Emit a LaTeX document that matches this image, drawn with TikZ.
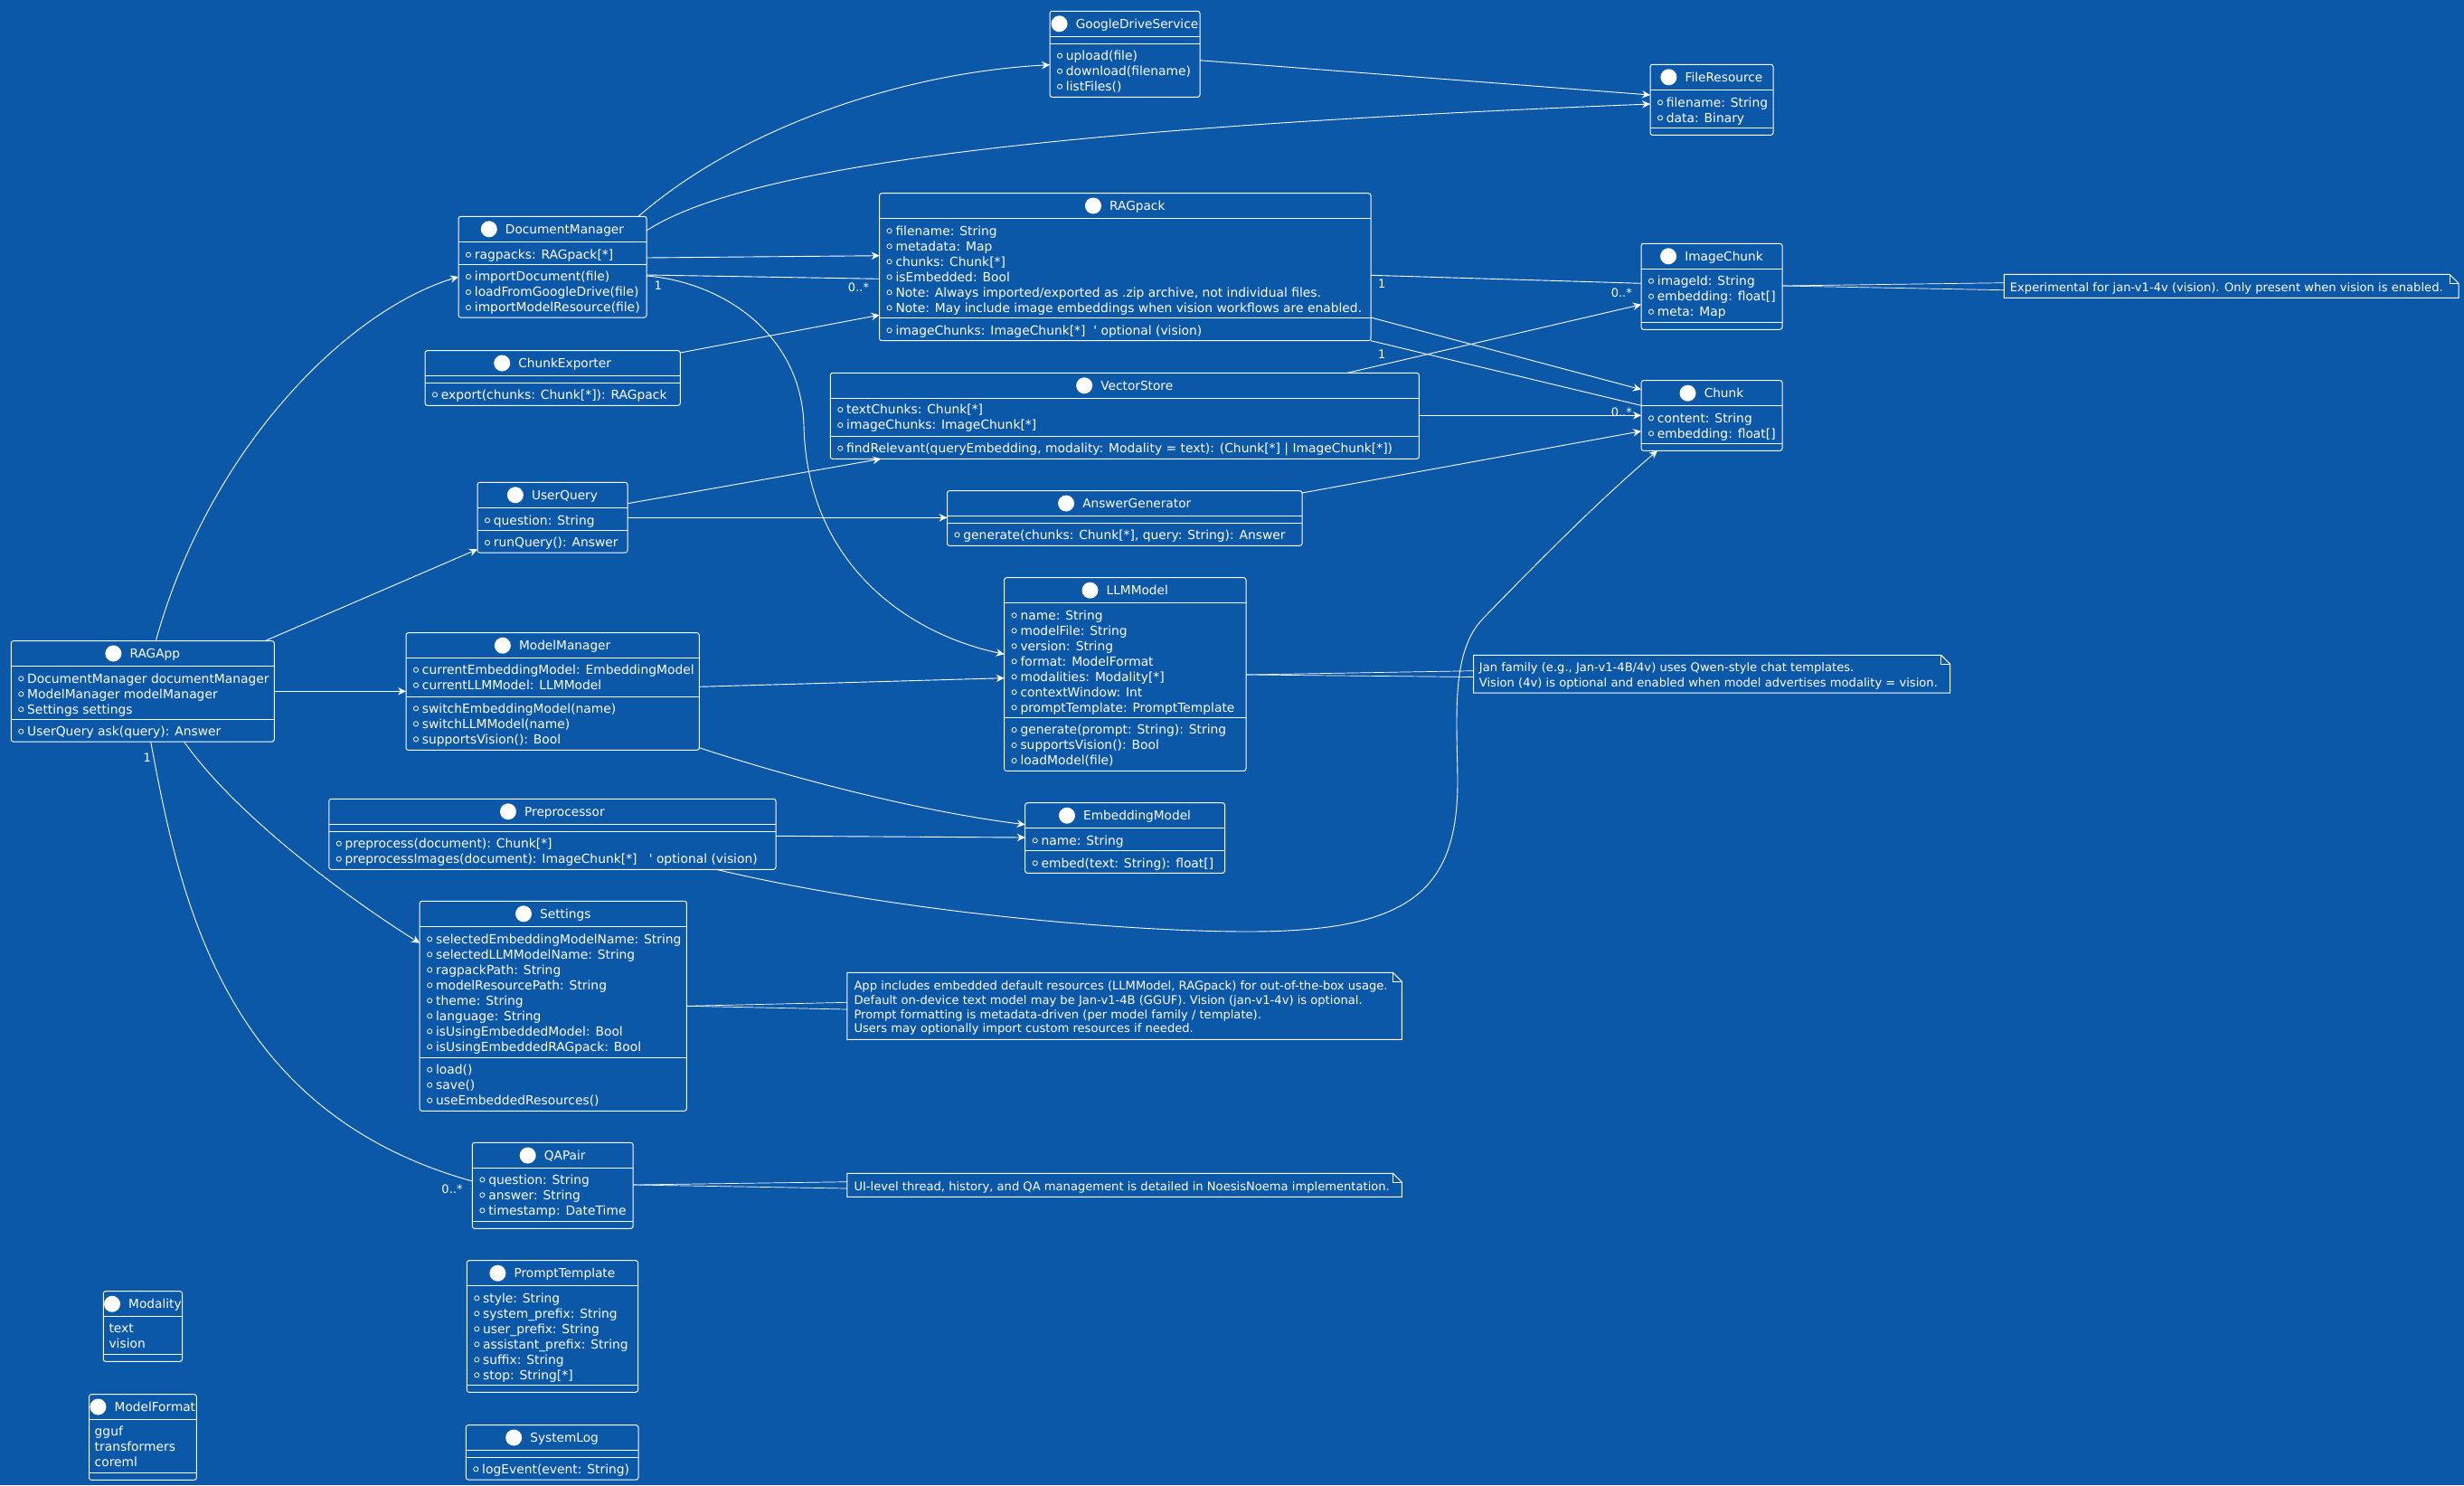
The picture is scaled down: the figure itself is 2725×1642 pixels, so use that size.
\documentclass[tikz,border=0pt]{standalone}
\usepackage{fontspec}
\newfontfamily\umlfont{DejaVu Sans}
\usetikzlibrary{arrows.meta,calc}
\definecolor{umlbg}{RGB}{12,88,168}
\tikzset{
  clsbox/.style={draw=white, line width=1pt, rounded corners=2.5pt, inner sep=0pt, outer sep=0pt},
  sepl/.style={draw=white, line width=1pt},
  ttl/.style={text=white, inner sep=0pt, font=\umlfont\fontsize{13.7}{16}\selectfont},
  rowtxt/.style={text=white, inner sep=0pt, font=\umlfont\fontsize{13.85}{16}\selectfont},
  vis/.style={draw=white, line width=0.8pt},
  conn/.style={draw=white, line width=0.9pt},
  arr/.style={-{Stealth[length=9pt,width=8.5pt,inset=3pt]}},
  mult/.style={text=white, inner sep=0pt, font=\umlfont\fontsize{13}{14}\selectfont},
  notebox/.style={inner sep=0pt, outer sep=0pt},
  notedraw/.style={draw=white, line width=1pt},
  notetxt/.style={text=white, inner sep=0pt, font=\umlfont\fontsize{13.1}{14}\selectfont},
}
\newcommand\umlclass[7]{%
  \node[clsbox, anchor=north west, minimum width={(#4-#2)*1pt}, minimum height={(#5-#3)*1pt}] (#1) at (#2,#3) {};
  \draw[sepl] (#1.west |- 0,#6) -- (#1.east |- 0,#6);
  \node[ttl, anchor=base] (#1-t) at ({(#2+#4)/2+13.5},{(#3+#6)/2+4.7}) {#7};
  \fill[white] ($(#1-t.base west)+(-18,-4.7)$) circle (9pt);
}
\newcommand\umlsep[2]{\draw[sepl] (#1.west |- 0,#2) -- (#1.east |- 0,#2);}
\newcommand\umlrows[4]{%
  \foreach \umlitem [count=\i] in {#4}{%
    \draw[vis] ({#2+11},{#3+17*(\i-1)}) circle (2.6pt);
    \node[rowtxt, anchor=base west] (#1-\i) at ({#2+17.7},{#3+17*(\i-1)+4.8}) {\umlitem};
  }}
\newcommand\umlvals[4]{%
  \foreach \umlitem [count=\i] in {#4}{%
    \node[rowtxt, anchor=base west] (#1-\i) at ({#2+6},{#3+17*(\i-1)+4.8}) {\umlitem};
  }}
\newcommand\umlnote[5]{%
  \node[notebox, anchor=north west, minimum width={(#4-#2)*1pt}, minimum height={(#5-#3)*1pt}] (#1) at (#2,#3) {};
  \draw[notedraw] (#1.north west) -- ($(#1.north east)+(-10,0)$) -- ($(#1.north east)+(0,10)$) -- (#1.south east) -- (#1.south west) -- cycle;
  \draw[notedraw] ($(#1.north east)+(-10,0)$) -- ($(#1.north east)+(-10,10)$) -- ($(#1.north east)+(0,10)$);
}
\newcommand\umlnotelines[5]{%
  \foreach \umlitem [count=\i] in {#5}{%
    \node[notetxt, anchor=base west] (#1-\i) at ({#2},{#3+#4*(\i-1)+4.5}) {\umlitem};
  }}
\begin{document}
\begin{tikzpicture}[x=1pt,y=-1pt]
\useasboundingbox (0,0) rectangle (2725,1642);
\fill[umlbg] (0,0) rectangle (2725,1642);

% ---- classes ----
\umlclass{gds}{1161}{12.3}{1327}{107.3}{40.3}{GoogleDriveService}
\umlsep{gds}{48.3}
\umlrows{gds-m}{1161}{61.7}{upload(file), download(filename), listFiles()}

\umlclass{fr}{1825}{71.3}{1961}{149.3}{99.3}{FileResource}
\umlsep{fr}{141.3}
\umlrows{fr-a}{1825}{113.3}{filename: String, data: Binary}

\umlclass{dm}{507}{239.3}{715}{351}{267.3}{DocumentManager}
\umlsep{dm}{292.3}
\umlrows{dm-a}{507}{281.7}{ragpacks: RAGpack[*]}
\umlrows{dm-m}{507}{306}{importDocument(file), loadFromGoogleDrive(file), importModelResource(file)}

\umlclass{rp}{972.6}{213.7}{1516}{376.7}{241.3}{RAGpack}
\umlsep{rp}{351.7}
\umlrows{rp-a}{972.6}{255.3}{filename: String, metadata: Map, chunks: Chunk[*], isEmbedded: Bool, {Note: Always imported/exported as .zip archive, not individual files.}, Note: May include image embeddings when vision workflows are enabled.}
\umlrows{rp-m}{972.6}{365.3}{imageChunks: ImageChunk[*]\ \ ' optional (vision)}

\umlclass{ic}{1815}{269.3}{1971}{364.3}{297.3}{ImageChunk}
\umlsep{ic}{356.3}
\umlrows{ic-a}{1815}{310.7}{imageId: String, embedding: float[], meta: Map}

\umlclass{ch}{1815}{420.7}{1971}{498.3}{448.7}{Chunk}
\umlsep{ch}{490.3}
\umlrows{ch-a}{1815}{462.3}{content: String, embedding: float[]}

\umlclass{ce}{470}{387.7}{752.3}{448.3}{415.3}{ChunkExporter}
\umlsep{ce}{423.3}
\umlrows{ce-m}{470}{436.3}{{export(chunks: Chunk[*]): RAGpack}}

\umlclass{uq}{528}{533.3}{694}{611}{561.3}{UserQuery}
\umlsep{uq}{586.3}
\umlrows{uq-a}{528}{575.3}{question: String}
\umlrows{uq-m}{528}{600}{runQuery(): Answer}

\umlclass{vs}{918.3}{412.3}{1569.3}{507.3}{440.3}{VectorStore}
\umlsep{vs}{482.3}
\umlrows{vs-a}{918.3}{453}{textChunks: Chunk[*], imageChunks: ImageChunk[*]}
\umlrows{vs-m}{918.3}{495.7}{{findRelevant(queryEmbedding, modality: Modality = text): (Chunk[*] | ImageChunk[*])}}

\umlclass{ag}{1047.5}{542.7}{1440}{603.3}{570.3}{AnswerGenerator}
\umlsep{ag}{578.7}
\umlrows{ag-m}{1047.5}{591.3}{{generate(chunks: Chunk[*], query: String): Answer}}

\umlclass{llm}{1110.6}{638.7}{1378}{852.3}{666.7}{LLMModel}
\umlsep{llm}{793.3}
\umlrows{llm-a}{1110.6}{680.3}{name: String, modelFile: String, version: String, format: ModelFormat, modalities: Modality[*], contextWindow: Int, promptTemplate: PromptTemplate}
\umlrows{llm-m}{1110.6}{807}{generate(prompt: String): String, supportsVision(): Bool, loadModel(file)}

\umlclass{app}{12.3}{708.7}{303.3}{820}{736.3}{RAGApp}
\umlsep{app}{795.3}
\umlrows{app-a}{12.3}{750.3}{DocumentManager documentManager, ModelManager modelManager, Settings settings}
\umlrows{app-m}{12.3}{808.7}{UserQuery ask(query): Answer}

\umlclass{mm}{449}{699.7}{773.3}{829.3}{727.7}{ModelManager}
\umlsep{mm}{770.3}
\umlrows{mm-a}{449}{740.7}{currentEmbeddingModel: EmbeddingModel, currentLLMModel: LLMModel}
\umlrows{mm-m}{449}{783.3}{switchEmbeddingModel(name), switchLLMModel(name), supportsVision(): Bool}

\umlclass{pre}{363.8}{883.3}{858}{961.3}{911.3}{Preprocessor}
\umlsep{pre}{919.3}
\umlrows{pre-m}{363.8}{932.7}{preprocess(document): Chunk[*], preprocessImages(document): ImageChunk[*]\ \ \ ' optional (vision)}

\umlclass{em}{1133.7}{887.7}{1354.5}{965.3}{915.7}{EmbeddingModel}
\umlsep{em}{940.3}
\umlrows{em-a}{1133.7}{929.3}{name: String}
\umlrows{em-m}{1133.7}{954.3}{embed(text: String): float[]}

\umlclass{set}{464.2}{996.3}{759.4}{1228.3}{1024.3}{Settings}
\umlsep{set}{1169.3}
\umlrows{set-a}{464.2}{1038.3}{selectedEmbeddingModelName: String, selectedLLMModelName: String, ragpackPath: String, modelResourcePath: String, theme: String, language: String, isUsingEmbeddedModel: Bool, isUsingEmbeddedRAGpack: Bool}
\umlrows{set-m}{464.2}{1182.7}{load(), save(), useEmbeddedResources()}

\umlclass{qa}{522.4}{1263.3}{700}{1358.3}{1291.7}{QAPair}
\umlsep{qa}{1350}
\umlrows{qa-a}{522.4}{1304.3}{question: String, answer: String, timestamp: DateTime}

\umlclass{pt}{516.3}{1393.7}{705.6}{1539.3}{1421.7}{PromptTemplate}
\umlsep{pt}{1531.7}
\umlrows{pt-a}{516.3}{1435.3}{style: String, system\_prefix: String, user\_prefix: String, assistant\_prefix: String, suffix: String, stop: String[*]}

\umlclass{sl}{515.3}{1575.7}{706}{1636}{1603.3}{SystemLog}
\umlsep{sl}{1611.7}
\umlrows{sl-m}{515.3}{1624.3}{logEvent(event: String)}

\umlclass{mod}{114.3}{1427.7}{201.5}{1505.3}{1455.7}{Modality}
\umlsep{mod}{1497.3}
\umlvals{mod-v}{114.3}{1469}{text, vision}

\umlclass{mf}{98.5}{1541.7}{217.3}{1636.3}{1569.3}{ModelFormat}
\umlsep{mf}{1628.3}
\umlvals{mf-v}{98.5}{1582.3}{gguf, transformers, coreml}

% ---- notes ----
\umlnote{ne}{2216.4}{303.3}{2719}{329.3}
\umlnotelines{ne-l}{2222.7}{318}{16}{Experimental for jan-v1-4v (vision). Only present when vision is enabled.}
\umlnote{nj}{1629.5}{724.3}{2156.7}{766}
\umlnotelines{nj-l}{1635.7}{738.3}{16.4}{{Jan family (e.g., Jan-v1-4B/4v) uses Qwen-style chat templates.}, Vision (4v) is optional and enabled when model advertises modality = vision.}
\umlnote{na}{936.8}{1075.3}{1550.4}{1149.3}
\umlnotelines{na-l}{944.3}{1090}{15.8}{{App includes embedded default resources (LLMModel, RAGpack) for out-of-the-box usage.}, Default on-device text model may be Jan-v1-4B (GGUF). Vision (jan-v1-4v) is optional., Prompt formatting is metadata-driven (per model family / template)., Users may optionally import custom resources if needed.}
\umlnote{nu}{936.8}{1297.3}{1550.4}{1323.3}
\umlnotelines{nu-l}{944.3}{1312}{16}{{UI-level thread, history, and QA management is detailed in NoesisNoema implementation.}}

% ---- connectors ----
\draw[conn, arr] (dm.north -| 706,0) .. controls (820,140) and (1000,80) .. (gds.west |- 0,71.7);
\draw[conn, arr] (gds.east |- 0,66.7) -- (fr.west |- 0,105);
\draw[conn, arr] (dm.east |- 0,255) .. controls (830,180) and (1200,140) .. (fr.west |- 0,115);
\draw[conn, arr] (dm.east |- 0,285) -- (rp.west |- 0,282.7);
\draw[conn] (dm.east |- 0,304) -- (rp.west |- 0,308.3);
\node[mult] (m1) at (727.8,316) {1};
\node[mult] (m2) at (949.5,317.3) {0..*};
\draw[conn, arr] (dm.east |- 0,305) .. controls (800,312) and (886,370) .. (889,470) .. controls (892,620) and (1000,700) .. (llm.west |- 0,723.3);
\draw[conn, arr] (ce.east |- 0,390) -- (rp.west |- 0,348.3);
\draw[conn] (rp.east |- 0,304.3) -- (ic.west |- 0,313.3);
\node[mult] (m3) at (1528.3,313.3) {1};
\node[mult] (m4) at (1793.3,323.3) {0..*};
\draw[conn, arr] (rp.east |- 0,351) -- (ch.west |- 0,430.7);
\draw[conn] (rp.east |- 0,376.7) -- (ch.west |- 0,448.3);
\node[mult] (m5) at (1528.3,391.7) {1};
\node[mult] (m6) at (1793.3,455.7) {0..*};
\draw[conn, arr] (vs.north -| 1490,0) -- (ic.west |- 0,336.7);
\draw[conn, arr] (vs.east |- 0,459.3) -- (ch.west |- 0,459.3);
\draw[conn, arr] (ag.east |- 0,545) -- (ch.west |- 0,476.7);
\draw[conn, arr] (pre.south -| 792,0) .. controls (1000,1010) and (1250,1030) .. (1380,1030) .. controls (1560,1030) and (1613,985) .. (1612,860) .. controls (1611,790) and (1605,720) .. (1640,684) .. controls (1675,648) and (1760,560) .. (ch.south -| 1833,0);
\draw[conn, arr] (uq.east |- 0,556.7) -- (vs.south -| 974.3,0);
\draw[conn, arr] (uq.east |- 0,572.3) -- (ag.west |- 0,572.3);
\draw[conn, arr] (app.north -| 172.3,0) .. controls (230,500) and (380,345) .. (dm.west |- 0,306);
\draw[conn, arr] (app.north -| 292.8,0) -- (uq.west |- 0,607.3);
\draw[conn, arr] (app.east |- 0,764.3) -- (mm.west |- 0,764.3);
\draw[conn, arr] (app.south -| 203.5,0) .. controls (260,900) and (380,990) .. (set.west |- 0,1042.7);
\draw[conn] (app.south -| 166.7,0) .. controls (200,1000) and (250,1230) .. (qa.west |- 0,1306);
\node[mult] (m7) at (162.7,837.7) {1};
\node[mult] (m8) at (500,1315) {0..*};
\draw[conn, arr] (mm.east |- 0,759.3) -- (llm.west |- 0,749.7);
\draw[conn, arr] (mm.east |- 0,826.7) .. controls (850,852) and (1000,895) .. (em.west |- 0,911.7);
\draw[conn, arr] (pre.east |- 0,924.3) -- (em.west |- 0,926);

% ---- note links ----
\draw[conn, line width=0.7pt] (ic.east |- 0,316) -- (ne.west |- 0,312.7);
\draw[conn, line width=0.7pt] (ic.east |- 0,316) -- (ne.west |- 0,320.7);
\draw[conn, line width=0.7pt] (llm.east |- 0,746) -- (nj.west |- 0,741.7);
\draw[conn, line width=0.7pt] (llm.east |- 0,746) -- (nj.west |- 0,748.5);
\draw[conn, line width=0.7pt] (set.east |- 0,1112.3) -- (na.west |- 0,1108.3);
\draw[conn, line width=0.7pt] (set.east |- 0,1112.3) -- (na.west |- 0,1116);
\draw[conn, line width=0.7pt] (qa.east |- 0,1310) -- (nu.west |- 0,1306.7);
\draw[conn, line width=0.7pt] (qa.east |- 0,1310) -- (nu.west |- 0,1314);
\end{tikzpicture}
\end{document}
